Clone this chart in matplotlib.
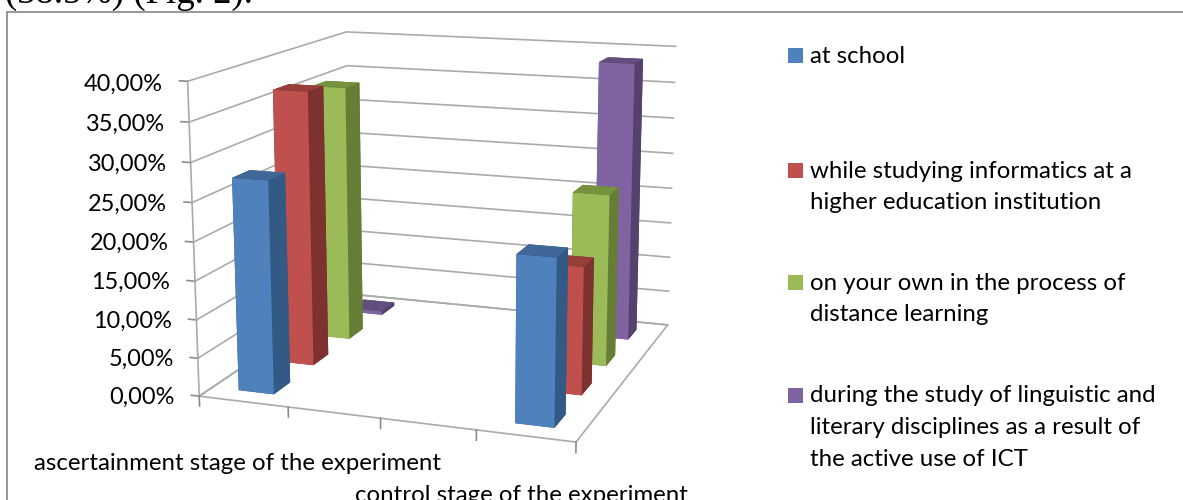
import numpy as np
import matplotlib
matplotlib.use('Agg')
import matplotlib.pyplot as plt
from matplotlib.patches import Rectangle
from mpl_toolkits.mplot3d import proj3d

plt.rcParams['font.family'] = ['Lato', 'DejaVu Sans']

W, H = 1183, 500

series = ['at school',
          'while studying informatics at a\nhigher education institution',
          'on your own in the process of\ndistance learning',
          'during the study of linguistic and\nliterary disciplines as a result of\nthe active use of ICT']
stages = ['ascertainment stage of the experiment', 'control stage of the experiment']
stage1 = [27.6, 36.7, 35.3, 0.5]
stage2 = [21.0, 16.7, 23.2, 38.6]
yticks = [0, 5, 10, 15, 20, 25, 30, 35, 40]
ylabels = ['0,00%', '5,00%', '10,00%', '15,00%', '20,00%', '25,00%', '30,00%', '35,00%', '40,00%']
front = ['#4F81BD', '#C0504D', '#9BBB59', '#8064A2']
side = ['#335A85', '#7E322F', '#667D36', '#54416E']
top = ['#3F6797', '#973E3B', '#76923C', '#644E80']
grid = '#aaaaaa'
fs = 17.3


def fx(px):
    return px / W


def fy(py):
    return 1 - py / H


fig = plt.figure(figsize=(W / 100, H / 100), dpi=100)

# frame of the embedded chart, it runs off the page on the right and at the bottom
fig.add_artist(Rectangle((fx(6.5), fy(520)), fx(1200), 508.5 / H, transform=fig.transFigure,
                         fill=False, edgecolor='#868686', lw=1.2))
fig.text(fx(5), fy(3), '(38.5%) (Fig. 2).', family='Liberation Serif', fontsize=26.5,
         va='baseline', color='black')

# view fitted against the corners of the walls and the floor
ax = fig.add_axes([144.15 / W, -17.36 / H, 591.82 / W, 591.82 / H], projection='3d', computed_zorder=False)
ax.view_init(13.2655, -70.5248, 0.1106)
ax.set_proj_type('persp', focal_length=0.5388)
ax.set_box_aspect((1, 1.0082, 0.8156))
ax.set_xlim(0, 4)
ax.set_ylim(0, 4)
ax.set_zlim(0, 40)
ax.set_axis_off()
ax.patch.set_alpha(0)
M = ax.get_proj()

ax.plot([0, 4, 4, 0, 0], [0, 0, 4, 4, 0], [0, 0, 0, 0, 0], color=grid, lw=1.2, zorder=1)
for z, lab in zip(yticks, ylabels):
    ax.plot([0, 0, 4], [0, 4, 4], [z, z, z], color=grid, lw=1.2, zorder=1)
    ax.plot([-0.09, 0], [0, 0], [z, z], color='#8c8c8c', lw=1.2, zorder=1)
    X, Y, _ = proj3d.proj_transform(-0.28, 0, z - 0.5, M)
    ax.text2D(X, Y, lab, transform=ax.transData, ha='right', va='center', fontsize=16.9, color='black')
ax.plot([0, 0], [0, 0], [0, 40], color=grid, lw=1.2, zorder=1)
for t in range(5):
    ax.plot([t, t], [0, 0], [-1.3, 0], color='#8c8c8c', lw=1.2, zorder=1)

bw = 0.4
for i in range(4):
    for xc, vals in zip([0.5, 3.5], [stage1, stage2]):
        ax.bar3d(xc - bw / 2, i + 0.5 - bw / 2, 0, bw, bw, vals[i], shade=False,
                 color=[side[i], top[i], front[i], side[i], side[i], side[i]],
                 edgecolor='none', linewidth=0, zorder=10 - i)

fig.text(fx(34), fy(463.5), stages[0], fontsize=fs, va='center', color='black')
fig.text(fx(355), fy(496), stages[1], fontsize=fs, va='center', color='black')

# legend
leg_y = [56.5, 171, 283, 396]
for lab, col, y in zip(series, front, leg_y):
    fig.add_artist(Rectangle((fx(788), fy(y + 6.5)), 15 / W, 15 / H, transform=fig.transFigure,
                             facecolor=col, edgecolor='none'))
    for j, line in enumerate(lab.split('\n')):
        fig.text(fx(810), fy(y + 31.7 * j), line, fontsize=fs, va='center', color='black')

fig.savefig('out.png', dpi=100)
